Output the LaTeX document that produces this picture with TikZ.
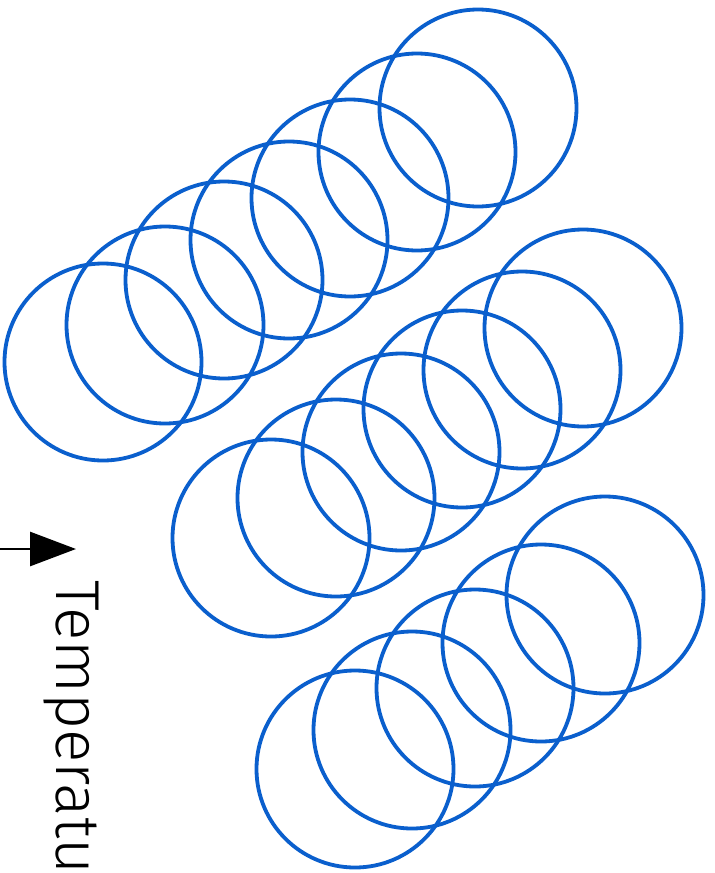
\documentclass[tikz,border=0pt]{standalone}
\usepackage{fontspec}
\setmainfont{Fira Sans}
\usetikzlibrary{arrows.meta}
\definecolor{inkblue}{RGB}{10,95,205}
\tikzset{
  ring/.style={draw=inkblue, line width=3.8pt, circle, minimum size=197pt, inner sep=0pt},
  axisarrow/.style={draw=black, line width=2.8pt, -{Triangle[length=46pt,width=34pt]}},
  axislabel/.style={font=\fontsize{62}{62}\selectfont\fontspec{Fira Sans Light}, rotate=-90, anchor=west, inner sep=0pt}
}
\begin{document}
\begin{tikzpicture}[x=1pt,y=-1pt]
\useasboundingbox[fill=white] (0,0) rectangle (715,873);
% top group
\node[ring] (a1) at (103,362) {};
\node[ring] (a2) at (165,325) {};
\node[ring] (a3) at (224,280) {};
\node[ring] (a4) at (289,240) {};
\node[ring] (a5) at (350,198) {};
\node[ring] (a6) at (417,152) {};
\node[ring] (a7) at (478,108) {};
% middle group
\node[ring] (b1) at (271,538) {};
\node[ring] (b2) at (336,498) {};
\node[ring] (b3) at (401,452) {};
\node[ring] (b4) at (462,409) {};
\node[ring] (b5) at (522,370) {};
\node[ring] (b6) at (583,328) {};
% bottom group
\node[ring] (c1) at (355,769) {};
\node[ring] (c2) at (412,730) {};
\node[ring] (c3) at (475,688) {};
\node[ring] (c4) at (541,643) {};
\node[ring] (c5) at (605,595) {};
% axis
\coordinate (tstart) at (0,549);
\coordinate (tend) at (76,549);
\draw[axisarrow] (tstart) -- (tend);
\node[axislabel] (tlabel) at (71,580) {Temperatu};
\end{tikzpicture}
\end{document}
